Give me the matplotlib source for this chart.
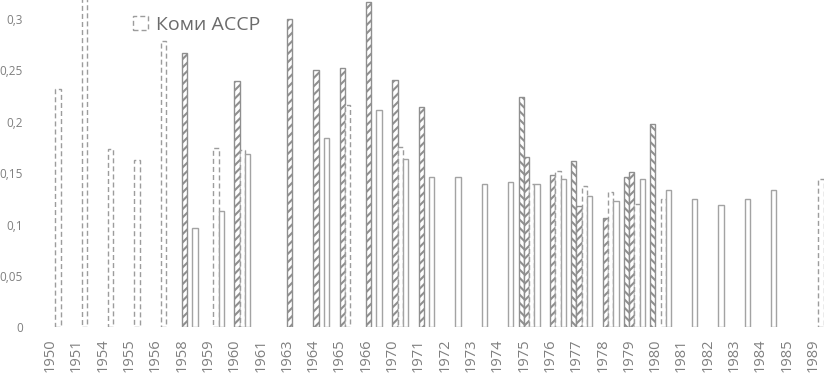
import numpy as np
import matplotlib
matplotlib.use('Agg')
import matplotlib.pyplot as plt

nan = np.nan

years = ['1950', '1951', '1954', '1955', '1956', '1958', '1959', '1960', '1961', '1963',
         '1964', '1965', '1966', '1970', '1971', '1972', '1973', '1974', '1975', '1976',
         '1977', '1978', '1979', '1980', '1981', '1982', '1983', '1984', '1985', '1989']

# Коми АССР (dashed outline)
komi = [0.232, 0.320, 0.173, 0.163, 0.279, nan, 0.174, 0.172, nan, nan,
        nan, 0.216, nan, 0.175, nan, nan, nan, nan, 0.139, 0.152,
        0.137, 0.132, 0.120, 0.125, nan, nan, nan, nan, nan, 0.144]

# hatched ///
hatch_a = [nan, nan, nan, nan, nan, 0.267, nan, 0.240, nan, 0.300,
           0.250, 0.252, 0.316, 0.241, 0.214, nan, nan, nan, 0.166, 0.148,
           0.118, 0.106, 0.151, nan, nan, nan, nan, nan, nan, nan]

# hatched \\\
hatch_b = [nan, nan, nan, nan, nan, nan, nan, nan, nan, nan,
           nan, nan, nan, nan, nan, nan, nan, nan, 0.224, nan,
           0.162, nan, 0.146, 0.198, nan, nan, nan, nan, nan, nan]

# plain outline
plain = [nan, nan, nan, nan, nan, 0.097, 0.113, 0.169, nan, nan,
         0.184, nan, 0.211, 0.164, 0.146, 0.146, 0.139, 0.141, 0.139, 0.144,
         0.128, 0.123, 0.144, 0.134, 0.125, 0.119, 0.125, 0.134, nan, nan]

plt.rcParams['font.family'] = ['Open Sans', 'DejaVu Sans']
plt.rcParams['hatch.linewidth'] = 1.5
plt.rcParams['lines.scale_dashes'] = False

fig = plt.figure(figsize=(8.24, 3.74), dpi=100)
ax = fig.add_axes([39.7 / 824, 46.7 / 374, 789.3 / 824, 327.3 / 374])

x = np.arange(len(years))
w = 0.2
edge = '#a3a3a3'
dark = '#8f8f8f'


def draw(vals, off, **kw):
    v = np.array(vals, dtype=float)
    m = ~np.isnan(v)
    return ax.bar(x[m] + off, v[m], width=w, **kw)


draw(hatch_b, -0.2, facecolor='white', edgecolor=dark, hatch='\\\\\\\\', linewidth=1.0)
draw(hatch_a, 0.0, facecolor='white', edgecolor=dark, hatch='////', linewidth=1.0)
bk = draw(komi, 0.2, facecolor='white', edgecolor='#9c9c9c', linewidth=1.0,
          linestyle=(0, (3.6, 2.2)), label='Коми АССР')
draw(plain, 0.4, facecolor='white', edgecolor=edge, linewidth=1.0)

ax.set_xlim(-0.5, len(years) - 0.5)
ax.set_ylim(0, 0.3184)
ax.set_yticks([0, 0.05, 0.1, 0.15, 0.2, 0.25, 0.3])
ax.set_yticklabels(['0', '0,05', '0,1', '0,15', '0,2', '0,25', '0,3'])
ax.set_xticks(x - 0.1)
ax.set_xticklabels(years, rotation=90)
ax.tick_params(axis='y', length=0, pad=12, labelsize=8.5, labelcolor='#7f7f7f')
ax.tick_params(axis='x', length=0, pad=8, labelsize=10.5, labelcolor='#7f7f7f')
for s in ax.spines.values():
    s.set_visible(False)

leg = fig.legend(handles=[bk], loc='upper left', bbox_to_anchor=(129 / 824, 1 - 12 / 374),
                 frameon=False, fontsize=14, handlelength=0.8, handleheight=0.75,
                 handletextpad=0.4, borderpad=0.2, borderaxespad=0)
for t in leg.get_texts():
    t.set_color('#6b6b6b')

fig.savefig('out.png', dpi=100)
